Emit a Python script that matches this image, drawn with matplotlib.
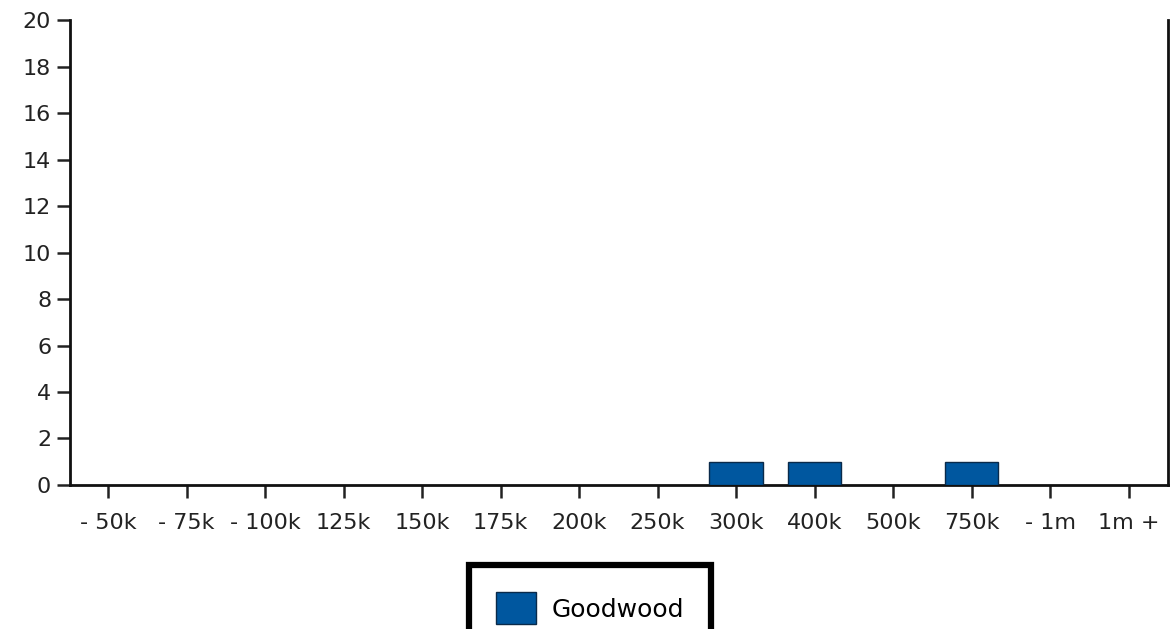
import matplotlib
matplotlib.use("Agg")
import matplotlib.pyplot as plt
import numpy as np

# price bands (visible part of the labels) and counts
categories = ["- 50k", "- 75k", "- 100k", "125k", "150k", "175k", "200k",
              "250k", "300k", "400k", "500k", "750k", "- 1m", "1m +"]
goodwood = [0, 0, 0, 0, 0, 0, 0, 0, 1, 1, 0, 1, 0, 0]
y_ticks = list(range(0, 21, 2))

plt.rcParams['font.family'] = ['DejaVu Sans']

fig = plt.figure(figsize=(11.76, 6.29), dpi=100)
ax = fig.add_axes([0.0595, 0.229, 0.9335, 0.739])

x = np.arange(len(categories))
vals = np.array(goodwood)
ax.bar(x[vals > 0], vals[vals > 0], width=0.68, color='#00579f',
       edgecolor='#0a2a4a', linewidth=1.0, label='Goodwood', zorder=3)

ax.set_xlim(-0.485, 13.5)
ax.set_ylim(0, 20)
ax.set_yticks(y_ticks)
ax.set_xticks(x)
ax.set_xticklabels(categories)

ax.spines['top'].set_visible(False)
for s in ['left', 'right', 'bottom']:
    ax.spines[s].set_linewidth(2)
    ax.spines[s].set_color('#111111')

ax.tick_params(axis='y', length=9.5, width=1.8, labelsize=16, pad=4, colors='#222222')
ax.tick_params(axis='x', length=9.5, width=1.8, labelsize=16, pad=11, colors='#222222')

leg = fig.legend(loc='upper center', bbox_to_anchor=(0.5017, 0.102), ncol=1,
                 fontsize=18, fancybox=False, frameon=True, framealpha=1,
                 handlelength=1.6, handleheight=1.6, borderpad=1.1,
                 handletextpad=0.6, borderaxespad=0)
leg.get_frame().set_edgecolor('black')
leg.get_frame().set_linewidth(4.5)

fig.savefig("out.png", dpi=100)
